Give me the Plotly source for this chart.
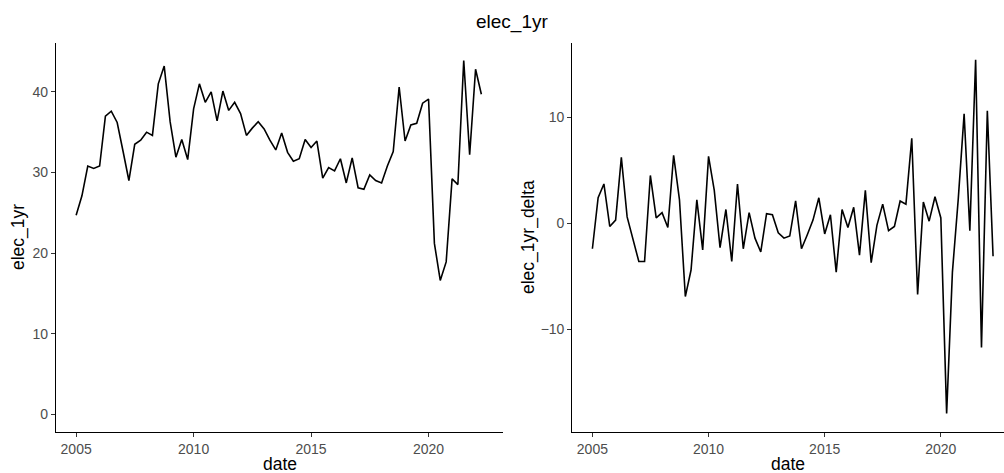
import pandas as pd
import plotly.graph_objects as go
from plotly.subplots import make_subplots

dates = pd.date_range("2005-01-01", periods=70, freq="QS")

elec_1yr = [
    24.7, 27.1, 30.8, 30.5, 30.8, 37.0, 37.6, 36.2, 32.6, 29.0,
    33.5, 34.0, 35.0, 34.6, 41.0, 43.2, 36.3, 31.9, 34.1, 31.6,
    37.9, 41.0, 38.7, 40.0, 36.4, 40.1, 37.7, 38.7, 37.3, 34.6,
    35.5, 36.3, 35.4, 34.0, 32.8, 34.9, 32.5, 31.4, 31.7, 34.1,
    33.1, 33.9, 29.3, 30.6, 30.2, 31.7, 28.7, 31.8, 28.1, 27.9,
    29.7, 29.0, 28.7, 30.8, 32.6, 40.6, 33.9, 35.9, 36.1, 38.6,
    39.1, 21.2, 16.6, 18.9, 29.2, 28.5, 43.9, 32.2, 42.8, 39.7,
]

elec_1yr_delta = [
    -2.4, 2.4, 3.7, -0.3, 0.3, 6.2, 0.6, -1.4, -3.6, -3.6,
    4.5, 0.5, 1.0, -0.4, 6.4, 2.2, -6.9, -4.4, 2.2, -2.5,
    6.3, 3.1, -2.3, 1.3, -3.6, 3.7, -2.4, 1.0, -1.4, -2.7,
    0.9, 0.8, -0.9, -1.4, -1.2, 2.1, -2.4, -1.1, 0.3, 2.4,
    -1.0, 0.8, -4.6, 1.3, -0.4, 1.5, -3.0, 3.1, -3.7, -0.2,
    1.8, -0.7, -0.3, 2.1, 1.8, 8.0, -6.7, 2.0, 0.2, 2.5,
    0.5, -17.9, -4.6, 2.3, 10.3, -0.7, 15.4, -11.7, 10.6, -3.1,
]

W, H = 1004, 473
px = lambda x: x / W
py = lambda y: 1 - y / H

fig = go.Figure()
fig.add_trace(go.Scatter(x=dates, y=elec_1yr, mode="lines",
                         line=dict(color="black", width=1.6),
                         xaxis="x", yaxis="y", showlegend=False))
fig.add_trace(go.Scatter(x=dates, y=elec_1yr_delta, mode="lines",
                         line=dict(color="black", width=1.6),
                         xaxis="x2", yaxis="y2", showlegend=False))

tickfont = dict(family="Liberation Sans, Arial, sans-serif", size=14, color="#4d4d4d")
xcommon = dict(type="date", tickformat="%Y", dtick="M60", tick0="2005-01-01",
               showgrid=False, zeroline=False, showline=True, linecolor="black",
               linewidth=1.2, ticks="outside", ticklen=4, tickcolor="#333333",
               tickwidth=1.1, tickfont=tickfont)
ycommon = dict(showgrid=False, zeroline=False, showline=True, linecolor="black",
               linewidth=1.2, ticks="outside", ticklen=4, tickcolor="#333333",
               tickwidth=1.1, tickfont=tickfont)

fig.update_layout(
    width=W, height=H,
    margin=dict(l=0, r=0, t=0, b=0),
    plot_bgcolor="white", paper_bgcolor="white",
    xaxis=dict(domain=[px(56), px(503.3)], anchor="y",
               range=["2004-02-23", "2023-03-08"], **xcommon),
    yaxis=dict(domain=[py(432), py(42.7)], anchor="x",
               range=[-2.2, 46.1], dtick=10, tick0=0, **ycommon),
    xaxis2=dict(domain=[px(572.3), 1.0], anchor="y2",
                range=["2004-02-20", "2022-09-20"], **xcommon),
    yaxis2=dict(domain=[py(432), py(42.7)], anchor="x2",
                range=[-19.65, 17.0], dtick=10, tick0=0, **ycommon),
)

titlefont = dict(family="Liberation Sans, Arial, sans-serif", size=17.5, color="black")
anns = [
    dict(text="elec_1yr", x=px(512), y=py(22), font=dict(family="Liberation Sans, Arial, sans-serif", size=19, color="black")),
    dict(text="date", x=px(279.5), y=py(464), font=titlefont),
    dict(text="date", x=px(788), y=py(464), font=titlefont),
    dict(text="elec_1yr", x=px(18), y=py(237), font=titlefont, textangle=-90),
    dict(text="elec_1yr_delta", x=px(528), y=py(237), font=titlefont, textangle=-90),
]
for a in anns:
    fig.add_annotation(xref="paper", yref="paper", showarrow=False,
                       xanchor="center", yanchor="middle", **a)

fig.write_html("out.html")
